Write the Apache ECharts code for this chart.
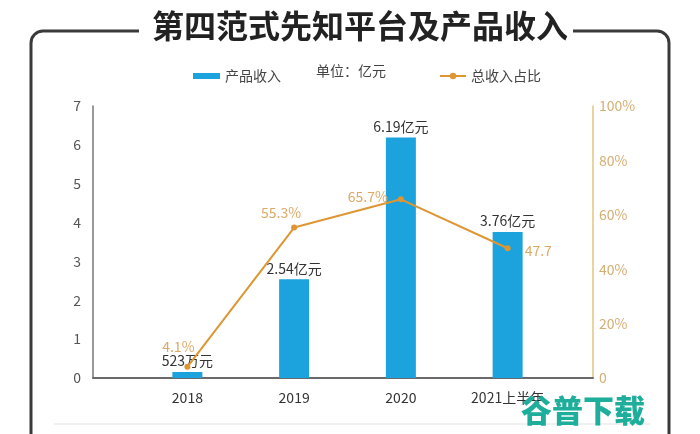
<!DOCTYPE html>
<html>
<head>
<meta charset="utf-8">
<script src="https://cdn.jsdelivr.net/npm/echarts@6/dist/echarts.min.js"></script>
<style>
html,body{margin:0;padding:0;background:#fff;}
#chart{width:700px;height:434px;}
</style>
</head>
<body>
<div id="chart"></div>
<script>
var categories = ['2018', '2019', '2020', '2021上半年'];
var revenue = [0.0523, 2.54, 6.19, 3.76];            // 亿元
var revenueLabels = ['523万元', '2.54亿元', '6.19亿元', '3.76亿元'];
var share = [4.1, 55.3, 65.7, 47.7];                 // %
var shareLabels = ['4.1%', '55.3%', '65.7%', '47.7'];
var leftTicks = [0, 1, 2, 3, 4, 5, 6, 7];
var rightTicks = ['0', '20%', '40%', '60%', '80%', '100%'];

var FONT = 'Noto Sans CJK SC';
var chart = echarts.init(document.getElementById('chart'), null, {renderer: 'canvas'});

var shareLabelStyles = [
  {position: 'top', offset: [-9, -5]},
  {position: 'top', offset: [-13, 0]},
  {position: 'left', distance: 10, offset: [0, -3]},
  {position: 'right', distance: 14, offset: [0, 2]}
];

var frameStyle = {stroke: '#3a3a3a', lineWidth: 3, fill: null};

var option = {
  animation: false,
  backgroundColor: '#fff',
  textStyle: {fontFamily: FONT},
  title: {
    text: '第四范式先知平台及产品收入',
    left: 147, top: 5,
    textStyle: {fontSize: 32, fontWeight: 'bold', color: '#222', fontFamily: FONT}
  },
  legend: [
    {data: ['产品收入'], left: 188, top: 64, itemWidth: 27, itemHeight: 6, icon: 'rect',
     itemGap: 10, textStyle: {fontSize: 14, color: '#444', fontFamily: FONT}},
    {data: ['总收入占比'], left: 434, top: 64, itemWidth: 26, itemHeight: 8,
     textStyle: {fontSize: 14, color: '#444', fontFamily: FONT}}
  ],
  grid: [
    {left: 93, right: 107, top: 106, bottom: 56},
    {left: 134, right: 139, top: 106, bottom: 56}
  ],
  xAxis: [
    {type: 'category', gridIndex: 0, data: categories,
     axisLine: {lineStyle: {color: '#6a6a6a', width: 2}},
     axisTick: {show: false}, axisLabel: {show: false}, splitLine: {show: false}},
    {type: 'category', gridIndex: 1, data: categories,
     axisLine: {show: false}, axisTick: {show: false},
     axisLabel: {color: '#333', fontSize: 14, margin: 13, fontFamily: FONT}}
  ],
  yAxis: [
    {type: 'value', gridIndex: 0, position: 'left', min: leftTicks[0], max: leftTicks[leftTicks.length - 1], interval: 1,
     axisLine: {show: true, lineStyle: {color: '#777', width: 1.5}},
     axisTick: {show: false}, splitLine: {show: false},
     axisLabel: {color: '#555', fontSize: 14, margin: 12, fontFamily: FONT}},
    {type: 'value', gridIndex: 0, position: 'right', min: 0, max: 100, interval: 20,
     axisLine: {show: true, lineStyle: {color: '#E3C383', width: 1.5}},
     axisTick: {show: false}, splitLine: {show: false},
     axisLabel: {color: '#D5AE74', fontSize: 14, margin: 6, fontFamily: FONT,
       formatter: function (v) { return rightTicks[Math.round(v / 20)]; }}},
    {type: 'value', gridIndex: 1, min: 0, max: 7, show: false, splitLine: {show: false}},
    {type: 'value', gridIndex: 1, min: 0, max: 100, show: false, splitLine: {show: false}}
  ],
  series: [
    {
      name: '产品收入', type: 'bar', xAxisIndex: 1, yAxisIndex: 2,
      data: revenue, barWidth: 30, barMinHeight: 6,
      itemStyle: {color: '#1CA2DC'},
      label: {show: true, position: 'top', distance: 4, color: '#333', fontSize: 14, fontFamily: FONT,
        formatter: function (p) { return revenueLabels[p.dataIndex]; }}
    },
    {
      name: '总收入占比', type: 'line', xAxisIndex: 1, yAxisIndex: 3,
      data: share.map(function (v, i) {
        return {value: v, label: shareLabelStyles[i]};
      }),
      symbol: 'circle', symbolSize: 6, z: 5,
      lineStyle: {color: '#DE9633', width: 2},
      itemStyle: {color: '#DE9633'},
      label: {show: true, color: '#DDAA66', fontSize: 14, fontFamily: FONT,
        formatter: function (p) { return shareLabels[p.dataIndex]; }}
    }
  ],
  graphic: [
    {type: 'polyline', shape: {points: [[139, 31], [43, 31]]}, style: frameStyle},
    {type: 'arc', shape: {cx: 43, cy: 43, r: 12, startAngle: Math.PI, endAngle: Math.PI * 1.5}, style: frameStyle},
    {type: 'polyline', shape: {points: [[31, 43], [31, 445]]}, style: frameStyle},
    {type: 'polyline', shape: {points: [[573, 31], [657, 31]]}, style: frameStyle},
    {type: 'arc', shape: {cx: 657, cy: 43, r: 12, startAngle: Math.PI * 1.5, endAngle: Math.PI * 2}, style: frameStyle},
    {type: 'polyline', shape: {points: [[669, 43], [669, 445]]}, style: frameStyle},
    {type: 'text', left: 316, top: 64,
     style: {text: '单位：亿元', fill: '#444', font: '14px "Noto Sans CJK SC"'}},
    {type: 'line', shape: {x1: 54, y1: 424, x2: 650, y2: 424},
     style: {stroke: '#e2e2e2', lineWidth: 1}},
    {type: 'text', left: 521, top: 395, z: 100,
     style: {text: '谷普下载', fill: '#1FAE9B', font: '900 31px "Noto Sans CJK SC"'}}
  ]
};
chart.setOption(option);
</script>
</body>
</html>
